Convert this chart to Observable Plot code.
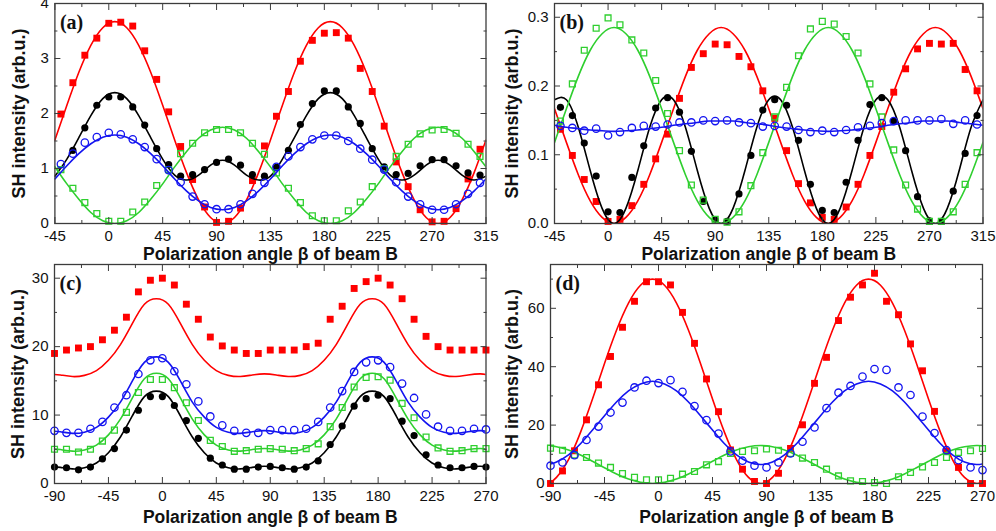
<!DOCTYPE html>
<html><head><meta charset="utf-8">
<script src="https://cdn.jsdelivr.net/npm/d3@7"></script>
<script src="https://cdn.jsdelivr.net/npm/@observablehq/plot@0.6"></script>
<style>
body{margin:0;background:#fff;}
#wrap{position:relative;width:996px;height:531px;overflow:hidden;background:#fff;}
#wrap svg{position:absolute;overflow:visible;}
</style></head><body><div id="wrap"></div>
<script>
// ---------- shared text ----------
const xLabel = "Polarization angle β of beam B";
const yLabel = "SH intensity (arb.u.)";

// ---------- panel (a) / (b): measured angles ----------
const angAB = [-40,-30,-20,-10,0,10,20,30,40,50,60,70,80,90,100,110,120,130,140,150,160,170,180,190,200,210,220,230,240,250,260,270,280,290,300,310];
const aRed   = [1.99,2.56,3.06,3.37,3.64,3.66,3.59,3.14,2.62,2.03,1.40,0.80,0.30,0.02,0.04,0.28,0.78,1.41,1.95,2.40,2.95,3.33,3.46,3.47,3.37,2.82,2.40,1.77,1.12,0.67,0.25,0.03,0.04,0.27,0.81,1.35];
const aBlack = [null,1.33,1.74,2.15,2.30,2.30,2.12,1.79,1.36,1.07,0.86,0.89,0.98,1.11,1.17,1.06,0.89,0.86,1.02,1.33,1.80,2.18,2.41,2.41,2.12,1.82,1.36,1.03,0.89,0.91,1.05,1.16,1.16,1.05,0.92,0.88];
const aGreen = [0.98,0.64,0.38,0.18,0.04,0.04,0.21,0.39,0.69,0.98,1.27,1.46,1.65,1.71,1.71,1.65,1.46,1.26,0.92,0.64,0.38,0.14,0.05,0.05,0.23,0.39,0.67,1.00,1.22,1.44,1.63,1.70,1.71,1.64,1.44,1.22];
const aBlue  = [1.08,1.27,1.47,1.57,1.65,1.62,1.53,1.39,1.17,0.97,0.75,0.49,0.35,0.26,0.26,0.35,0.54,0.74,1.03,1.22,1.39,1.53,1.60,1.60,1.50,1.36,1.16,0.98,0.75,0.49,0.35,0.25,0.25,0.35,0.54,0.74];

const bRed   = [0.137,0.099,0.064,0.032,0.003,0.006,0.026,0.057,0.094,0.130,0.182,0.227,0.247,0.261,0.260,0.243,0.228,0.193,0.153,0.106,0.058,0.030,0.009,0.006,0.024,0.057,0.099,0.141,0.191,0.225,0.254,0.262,0.261,0.262,0.224,0.193];
const bGreen = [0.149,0.203,0.252,0.284,0.299,0.289,0.267,0.248,0.208,0.160,0.106,0.056,0.034,0.006,0.002,0.017,0.055,0.103,0.155,0.198,0.244,0.283,0.294,0.290,0.272,0.248,0.203,0.155,0.107,0.056,0.021,0.003,0.003,0.017,0.057,0.103];
const bBlack = [0.169,0.157,0.117,0.069,0.017,0.016,0.067,0.113,0.168,0.183,0.162,0.105,0.032,0.005,0.003,0.043,0.099,0.165,0.180,0.172,0.121,0.057,0.019,0.016,0.060,0.121,0.173,0.183,0.149,0.106,0.039,0.004,0.003,0.047,0.102,0.157];
const bBlue  = [0.142,0.139,0.135,0.138,0.128,0.133,0.139,0.142,0.141,0.144,0.147,0.147,0.150,0.149,0.150,0.147,0.146,0.141,0.142,0.141,0.136,0.133,0.135,0.133,0.136,0.140,0.142,0.146,0.149,0.150,0.150,0.150,0.152,0.145,0.150,0.144];

// ---------- panel (a) / (b): fitted curves ----------
const fitAngAB = [-45,-35,-25,-15,-5,5,15,25,35,45,55,65,75,85,95,105,115,125,135,145,155,165,175,185,195,205,215,225,235,245,255,265,275,285,295,305,315];
const aRedFit   = [1.52,2.15,2.75,3.24,3.56,3.67,3.56,3.24,2.75,2.15,1.52,0.92,0.43,0.11,0,0.11,0.43,0.92,1.52,2.15,2.75,3.24,3.56,3.67,3.56,3.24,2.75,2.15,1.52,0.92,0.43,0.11,0,0.11,0.43,0.92,1.52];
const aBlackFit = [0.86,1.17,1.56,1.96,2.27,2.38,2.27,1.96,1.56,1.17,0.88,0.79,0.88,1.06,1.15,1.06,0.88,0.79,0.86,1.17,1.56,1.96,2.27,2.38,2.27,1.96,1.56,1.17,0.88,0.79,0.88,1.06,1.15,1.06,0.88,0.79,0.86];
const aGreenFit = [1.03,0.72,0.44,0.20,0.05,0,0.05,0.20,0.44,0.72,1.03,1.31,1.55,1.70,1.75,1.70,1.55,1.31,1.03,0.72,0.44,0.20,0.05,0,0.05,0.20,0.44,0.72,1.03,1.31,1.55,1.70,1.75,1.70,1.55,1.31,1.03];
const aBlueFit  = [0.81,1.05,1.27,1.45,1.57,1.61,1.57,1.45,1.27,1.05,0.81,0.59,0.41,0.29,0.25,0.29,0.41,0.59,0.81,1.05,1.27,1.45,1.57,1.61,1.57,1.45,1.27,1.05,0.81,0.59,0.41,0.29,0.25,0.29,0.41,0.59,0.81];

const bRedFit   = [0.167,0.118,0.071,0.033,0.009,0,0.009,0.033,0.071,0.118,0.167,0.214,0.252,0.276,0.285,0.276,0.252,0.214,0.167,0.118,0.071,0.033,0.009,0,0.009,0.033,0.071,0.118,0.167,0.214,0.252,0.276,0.285,0.276,0.252,0.214,0.167];
const bGreenFit = [0.118,0.167,0.214,0.252,0.276,0.285,0.276,0.252,0.214,0.167,0.118,0.071,0.033,0.009,0,0.009,0.033,0.071,0.118,0.167,0.214,0.252,0.276,0.285,0.276,0.252,0.214,0.167,0.118,0.071,0.033,0.009,0,0.009,0.033,0.071,0.118];
const bBlackFit = [0.180,0.180,0.140,0.077,0.022,0,0.022,0.077,0.140,0.180,0.180,0.140,0.077,0.022,0,0.022,0.077,0.140,0.180,0.180,0.140,0.077,0.022,0,0.022,0.077,0.140,0.180,0.180,0.140,0.077,0.022,0,0.022,0.077,0.140,0.180];
const bBlueFit  = [0.143,0.140,0.138,0.136,0.135,0.134,0.135,0.136,0.138,0.140,0.143,0.145,0.147,0.149,0.149,0.149,0.147,0.145,0.143,0.140,0.138,0.136,0.135,0.134,0.135,0.136,0.138,0.140,0.143,0.145,0.147,0.149,0.149,0.149,0.147,0.145,0.143];

// ---------- panel (c) / (d): measured angles ----------
const angCD = [-90,-80,-70,-60,-50,-40,-30,-20,-10,0,10,20,30,40,50,60,70,80,90,100,110,120,130,140,150,160,170,180,190,200,210,220,230,240,250,260,270];
const cRed   = [19.0,19.5,19.8,20.0,21.0,22.4,24.3,28.0,29.7,30.0,29.0,26.2,24.0,21.4,20.1,19.5,19.0,19.0,19.5,19.5,19.5,20.0,20.5,24.0,25.9,28.5,29.5,30.0,29.0,27.0,24.0,21.5,20.0,19.5,19.5,19.5,19.5];
const cBlue  = [7.7,7.4,7.4,8.0,9.0,11.1,12.9,16.0,18.0,18.3,16.4,14.5,12.0,9.8,8.5,7.7,7.4,7.4,7.8,7.8,7.8,8.0,9.0,11.1,13.5,16.3,17.7,18.0,17.0,14.6,12.5,10.1,8.3,7.7,7.7,8.0,7.9];
const cGreen = [5.0,5.0,4.6,5.0,6.2,7.8,10.4,13.3,15.2,15.2,14.0,11.8,9.2,6.3,5.4,4.7,4.8,5.0,5.1,5.0,4.8,5.1,5.8,8.3,11.1,14.1,15.5,15.6,15.1,11.7,9.6,6.8,5.2,4.7,4.8,5.1,5.1];
const cBlack = [2.4,2.3,2.0,2.4,3.6,5.1,7.8,10.7,12.7,12.7,11.4,9.2,6.6,3.7,2.7,2.1,2.1,2.4,2.5,2.3,2.1,2.4,3.3,5.7,8.4,11.3,12.4,12.9,12.4,9.1,7.0,4.2,2.7,2.3,2.3,2.5,2.4];

const dRed   = [0,4.3,11.2,21.8,33.8,43.5,53.5,62.4,69.1,69.1,68.0,58.6,48.0,35.8,24.6,11.5,4.9,0.7,0,3.5,12.0,20.1,34.3,43.2,55.8,63.8,68.0,72.0,62.4,57.8,47.8,38.6,24.7,11.0,5.5,0,0];
const dBlue  = [6.1,7.2,9.7,14.9,19.5,24.3,27.7,32.9,35.2,34.4,35.4,31.4,26.5,21.7,17.1,11.0,7.8,6.1,5.5,7.2,10.3,14.3,19.2,25.8,31.1,33.4,36.6,39.2,38.9,32.9,30.3,22.9,17.3,11.4,8.0,5.5,4.6];
const dGreen = [12.1,11.4,9.8,8.9,7.0,5.5,3.4,2.1,1.3,1.3,1.8,3.2,4.1,6.4,7.5,10.3,11.0,11.2,11.8,11.4,10.3,8.7,7.2,4.9,2.6,0.9,0.7,0.3,0,2.3,3.8,5.7,7.2,8.9,10.6,11.2,12.0];

// ---------- panel (c) / (d): fitted curves ----------
const fitAngCD = [-90,-85,-75,-65,-55,-45,-35,-25,-15,-5,5,15,25,35,45,55,65,75,85,95,105,115,125,135,145,155,165,175,185,195,205,215,225,235,245,255,265,270];
const cRedFit   = [15.93,15.86,15.63,15.8,16.5,18.0,20.3,23.4,26.2,27.0,26.2,23.4,20.3,18.0,16.5,15.8,15.63,15.86,16.02,15.86,15.63,15.8,16.5,18.0,20.3,23.4,26.2,27.0,26.2,23.4,20.3,18.0,16.5,15.8,15.63,15.86,16.02,15.93];
const cBlueFit  = [7.64,7.56,7.33,7.5,8.2,9.7,11.9,15.0,17.7,18.5,17.7,15.0,11.9,9.7,8.2,7.5,7.33,7.56,7.72,7.56,7.33,7.5,8.2,9.7,11.9,15.0,17.7,18.5,17.7,15.0,11.9,9.7,8.2,7.5,7.33,7.56,7.72,7.64];
const cGreenFit = [5.03,4.96,4.73,4.9,5.6,7.1,9.4,12.5,15.3,16.1,15.3,12.5,9.4,7.1,5.6,4.9,4.73,4.96,5.12,4.96,4.73,4.9,5.6,7.1,9.4,12.5,15.3,16.1,15.3,12.5,9.4,7.1,5.6,4.9,4.73,4.96,5.12,5.03];
const cBlackFit = [2.43,2.36,2.13,2.3,3.0,4.5,6.8,9.9,12.7,13.5,12.7,9.9,6.8,4.5,3.0,2.3,2.13,2.36,2.52,2.36,2.13,2.3,3.0,4.5,6.8,9.9,12.7,13.5,12.7,9.9,6.8,4.5,3.0,2.3,2.13,2.36,2.52,2.43];

const dRedFit   = [0.53,2.1,8.2,17.5,28.9,41.1,52.5,61.8,67.9,70,67.9,61.8,52.5,41.1,28.9,17.5,8.2,2.1,0,2.1,8.2,17.5,28.9,41.1,52.5,61.8,67.9,70,67.9,61.8,52.5,41.1,28.9,17.5,8.2,2.1,0,0.53];
const dBlueFit  = [6.72,7.36,9.83,13.6,18.3,23.2,27.9,31.7,34.1,35.0,34.1,31.7,27.9,23.2,18.3,13.6,9.83,7.36,6.5,7.36,9.83,13.6,18.3,23.2,27.9,31.7,34.1,35.0,34.1,31.7,27.9,23.2,18.3,13.6,9.83,7.36,6.5,6.72];
const dGreenFit = [12.9,12.6,11.5,9.75,7.6,5.4,3.25,1.5,0.39,0,0.39,1.5,3.25,5.4,7.6,9.75,11.5,12.6,13,12.6,11.5,9.75,7.6,5.4,3.25,1.5,0.39,0,0.39,1.5,3.25,5.4,7.6,9.75,11.5,12.6,13,12.9];

// ---------- ticks ----------
const xTicksAB = [-45,0,45,90,135,180,225,270,315];
const xMinorAB = [-22.5,22.5,67.5,112.5,157.5,202.5,247.5,292.5];
const xTicksCD = [-90,-45,0,45,90,135,180,225,270];
const xMinorCD = [-67.5,-22.5,22.5,67.5,112.5,157.5,202.5,247.5];
const yTicksA = [0,1,2,3,4], yMinorA = [0.5,1.5,2.5,3.5];
const yTicksB = [0,0.1,0.2,0.3], yMinorB = [0.05,0.15,0.25];
const yTicksC = [0,10,20,30], yMinorC = [5,15,25];
const yTicksD = [0,20,40,60], yMinorD = [10,30,50,70];

// ---------- colours ----------
const RED = "#ff0000", GREEN = "#2fcf2f", BLUE = "#1414f0", BLACK = "#000000";
const FRAME = "#3c3c3c";

const rows = (xs, ys) => xs.map((x, i) => ({x, y: ys[i]}));

function series(ang, vals, fitAng, fit, kind) {
  const marks = [];
  const pts = rows(ang, vals).filter(d => d.y != null);
  if (kind === "red") marks.push(Plot.dot(pts, {x: "x", y: "y", symbol: "square", fill: RED, r: 3.9}));
  if (kind === "black") marks.push(Plot.dot(pts, {x: "x", y: "y", symbol: "circle", fill: BLACK, r: 3.6}));
  if (kind === "green") marks.push(Plot.dot(pts, {x: "x", y: "y", symbol: "square", fill: "none", stroke: GREEN, strokeWidth: 1.3, r: 3.3}));
  if (kind === "blue") marks.push(Plot.dot(pts, {x: "x", y: "y", symbol: "circle", fill: "none", stroke: BLUE, strokeWidth: 1.3, r: 3.7}));
  const col = {red: RED, black: BLACK, green: GREEN, blue: BLUE}[kind];
  marks.push(Plot.line(rows(fitAng, fit), {x: "x", y: "y", stroke: col, strokeWidth: 1.6, curve: "natural", clip: true}));
  return marks;
}

function panel({left, top, width, height, ml, mr, mt, mb, xDomain, yDomain, xTicks, xMinor, yTicks, yMinor, yFmt, letter, ylabDx, xTickPad, xLabDy, seriesMarks}) {
  const plot = Plot.plot({
    width, height, marginLeft: ml, marginRight: mr, marginTop: mt, marginBottom: mb,
    style: {fontFamily: "'Liberation Sans', Arial, sans-serif", fontSize: "15px", color: "#111", background: "transparent", overflow: "visible"},
    x: {domain: xDomain, label: null},
    y: {domain: yDomain, label: null},
    marks: [
      ...seriesMarks,
      Plot.frame({stroke: FRAME, strokeWidth: 1.3}),
      // tick labels
      Plot.axisX(xTicks, {anchor: "bottom", tickSize: 0, tickPadding: xTickPad, tickFormat: d => String(d), label: null, fontSize: 15}),
      Plot.axisY(yTicks, {anchor: "left", tickSize: 0, tickPadding: 6, tickFormat: yFmt, label: null, fontSize: 15}),
      // inner ticks, all four sides
      Plot.axisX(xTicks, {anchor: "bottom", tickSize: -6, fill: "none", stroke: FRAME, label: null}),
      Plot.axisX(xMinor, {anchor: "bottom", tickSize: -3, fill: "none", stroke: FRAME, label: null}),
      Plot.axisX(xTicks, {anchor: "top", tickSize: -6, fill: "none", stroke: FRAME, label: null}),
      Plot.axisX(xMinor, {anchor: "top", tickSize: -3, fill: "none", stroke: FRAME, label: null}),
      Plot.axisY(yTicks, {anchor: "left", tickSize: -6, fill: "none", stroke: FRAME, label: null}),
      Plot.axisY(yMinor, {anchor: "left", tickSize: -3, fill: "none", stroke: FRAME, label: null}),
      Plot.axisY(yTicks, {anchor: "right", tickSize: -6, fill: "none", stroke: FRAME, label: null}),
      Plot.axisY(yMinor, {anchor: "right", tickSize: -3, fill: "none", stroke: FRAME, label: null}),
      // axis titles and panel letter
      Plot.text([xLabel], {text: d => d, frameAnchor: "bottom", lineAnchor: "middle", textAnchor: "middle", dy: xLabDy, fontWeight: "bold", fontSize: 17.5, fill: "#111"}),
      Plot.text([yLabel], {text: d => d, frameAnchor: "left", lineAnchor: "middle", textAnchor: "middle", rotate: -90, dx: ylabDx, fontWeight: "bold", fontSize: 18, fill: "#111"}),
      Plot.text([letter], {text: d => d, frameAnchor: "top-left", lineAnchor: "middle", textAnchor: "start", dx: 5, dy: 19, fontFamily: "'Liberation Serif', 'Times New Roman', serif", fontWeight: "bold", fontSize: 20, fill: "#111"})
    ]
  });
  plot.style.left = left + "px";
  plot.style.top = top + "px";
  document.getElementById("wrap").appendChild(plot);
}

const f1 = d3.format(".1f");

panel({left: 0, top: 0, width: 498, height: 262, ml: 54.4, mr: 12.5, mt: 3, mb: 39,
  xDomain: [-45, 315], yDomain: [0, 4], xTicks: xTicksAB, xMinor: xMinorAB, yTicks: yTicksA, yMinor: yMinorA,
  yFmt: d => String(d), letter: "(a)", ylabDx: -36, xTickPad: 6.5, xLabDy: 30.5,
  seriesMarks: [
    ...series(angAB, aRed, fitAngAB, aRedFit, "red"),
    ...series(angAB, aBlack, fitAngAB, aBlackFit, "black"),
    ...series(angAB, aGreen, fitAngAB, aGreenFit, "green"),
    ...series(angAB, aBlue, fitAngAB, aBlueFit, "blue")
  ]});

panel({left: 498, top: 0, width: 498, height: 262, ml: 56, mr: 13.5, mt: 3, mb: 39,
  xDomain: [-45, 315], yDomain: [0, 0.32], xTicks: xTicksAB, xMinor: xMinorAB, yTicks: yTicksB, yMinor: yMinorB,
  yFmt: f1, letter: "(b)", ylabDx: -42, xTickPad: 6.5, xLabDy: 30.5,
  seriesMarks: [
    ...series(angAB, bRed, fitAngAB, bRedFit, "red"),
    ...series(angAB, bBlack, fitAngAB, bBlackFit, "black"),
    ...series(angAB, bGreen, fitAngAB, bGreenFit, "green"),
    ...series(angAB, bBlue, fitAngAB, bBlueFit, "blue")
  ]});

panel({left: 0, top: 262, width: 498, height: 269, ml: 54, mr: 12.5, mt: 2, mb: 48,
  xDomain: [-90, 270], yDomain: [0, 32], xTicks: xTicksCD, xMinor: xMinorCD, yTicks: yTicksC, yMinor: yMinorC,
  yFmt: d => String(d), letter: "(c)", ylabDx: -36, xTickPad: 7, xLabDy: 34,
  seriesMarks: [
    ...series(angCD, cRed, fitAngCD, cRedFit, "red"),
    ...series(angCD, cBlack, fitAngCD, cBlackFit, "black"),
    ...series(angCD, cGreen, fitAngCD, cGreenFit, "green"),
    ...series(angCD, cBlue, fitAngCD, cBlueFit, "blue")
  ]});

panel({left: 498, top: 262, width: 498, height: 269, ml: 52, mr: 14, mt: 2, mb: 48,
  xDomain: [-90, 270], yDomain: [0, 75], xTicks: xTicksCD, xMinor: xMinorCD, yTicks: yTicksD, yMinor: yMinorD,
  yFmt: d => String(d), letter: "(d)", ylabDx: -38, xTickPad: 7, xLabDy: 34,
  seriesMarks: [
    ...series(angCD, dRed, fitAngCD, dRedFit, "red"),
    ...series(angCD, dGreen, fitAngCD, dGreenFit, "green"),
    ...series(angCD, dBlue, fitAngCD, dBlueFit, "blue")
  ]});
</script>
</body></html>
